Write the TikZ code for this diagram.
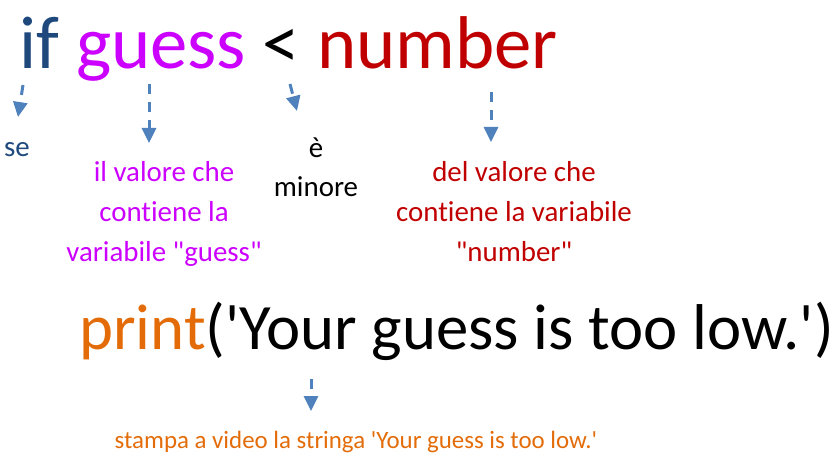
\documentclass[tikz,border=0pt]{standalone}
\usepackage{fontspec}
\setmainfont{Carlito}[Ligatures={TeXOff,CommonOff}]
\usetikzlibrary{arrows.meta,positioning}
\definecolor{ckwif}{HTML}{1F497D}
\definecolor{cguess}{HTML}{CC00FF}
\definecolor{cnumber}{HTML}{C00000}
\definecolor{cprint}{HTML}{E36C09}
\definecolor{chint}{HTML}{4F81BD}

\begin{document}
\begin{tikzpicture}[
    x=1bp, y=-1bp,
    codeline/.style={inner sep=0pt, anchor=base west,
        font=\fontsize{75}{80}\selectfont},
    printline/.style={inner sep=0pt, anchor=base west,
        font=\fontsize{65}{70}\selectfont},
    gloss/.style={inner sep=0pt, anchor=base, align=center,
        font=\fontsize{29}{40}\selectfont},
    hint/.style={chint, line width=3bp, dash pattern=on 10bp off 8bp,
        -{Triangle[length=15bp,width=14bp]}},
]
\useasboundingbox (0,0) rectangle (835,465);

% ============================================================
% CODE
% ============================================================
\node[codeline] (ifline) at (19,69) {%
    \textcolor{ckwif}{if} \textcolor{cguess}{guess} <
    \textcolor{cnumber}{number}};

\node[printline] (printcall) at (79,350) {%
    \textcolor{cprint}{print}('Your guess is too low.')};

% ============================================================
% GLOSSES (base = last line)
% ============================================================
\node[gloss, anchor=base west, text=ckwif] (se) at (4,157) {se};
\node[gloss, text=cguess] (guessval) at (164,261.7)
    {il valore che\\contiene la\\variabile "guess"};
\node[gloss, text=black] (minore) at (316,197) {è\\minore};
\node[gloss, text=cnumber] (numberval) at (514,261.7)
    {del valore che\\contiene la variabile\\"number"};
\node[gloss, text=cprint, font=\fontsize{25}{30}\selectfont] (stampa)
    at (356,448) {stampa a video la stringa 'Your guess is too low.'};

% ============================================================
% ARROWS
% ============================================================
\coordinate (if-s) at (23,85);     \coordinate (se-n) at (18,117);
\coordinate (guess-s) at (149,84); \coordinate (guessval-n) at (149,143);
\coordinate (lt-s) at (290,84);    \coordinate (minore-n) at (297,111);
\coordinate (number-s) at (491,92);\coordinate (numberval-n) at (491,142);
\coordinate (print-s) at (311,379);\coordinate (stampa-n) at (311,411);

\draw[hint] (if-s) -- (se-n);
\draw[hint] (guess-s) -- (guessval-n);
\draw[hint] (lt-s) -- (minore-n);
\draw[hint] (number-s) -- (numberval-n);
\draw[hint] (print-s) -- (stampa-n);

\end{tikzpicture}
\end{document}
